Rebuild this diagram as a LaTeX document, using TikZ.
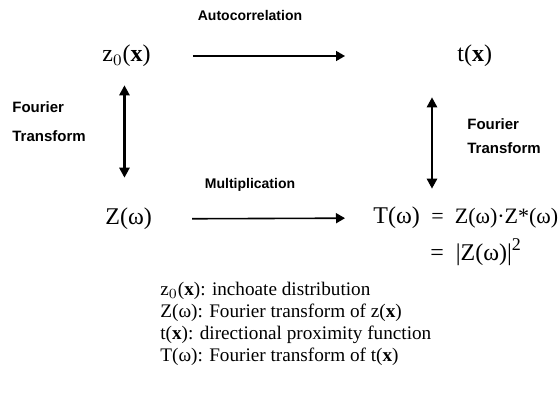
\documentclass[tikz,border=0pt]{standalone}
\usepackage{fontspec}
\setmainfont{Liberation Serif}
\setsansfont{Liberation Sans}
\usetikzlibrary{positioning,arrows.meta,calc}
\tikzset{oplbl/.style={font=\sffamily\bfseries\fontsize{7}{9}\selectfont,inner sep=1pt},
         ftlbl/.style={oplbl,align=left},
         term/.style={font=\fontsize{12}{14}\selectfont,inner sep=1pt},
         key/.style={font=\fontsize{9.6}{11}\selectfont,align=left,inner sep=0pt},
         arr/.style={-{Triangle[length=4.5pt,width=5pt]},line width=0.8pt},
         dbl/.style={{Triangle[length=5pt,width=5pt]}-{Triangle[length=5pt,width=5pt]},line width=1.3pt}}
\begin{document}
\begin{tikzpicture}[x=0.5pt,y=-0.5pt]
 \useasboundingbox (0,0) rectangle (558,400);
 \node[term,anchor=west] (z0) at (100,56) {z$_0$(\textbf{x})};
 \node[term,anchor=west] (tx) at (455,56) {t(\textbf{x})};
 \node[term,anchor=west] (Zw) at (103,219) {Z(ω)};
 \node[term,anchor=west] (Tw) at (371,218) {T(ω)};
 \node[term,anchor=west,font=\fontsize{11}{13}\selectfont] (eq1) at (429,218) {=\enspace Z(ω)·Z*(ω)};
 \node[term,anchor=west] (eq2) at (428,252) {=\enspace|Z(ω)|\raisebox{0.9ex}{\small 2}};
 \node[oplbl] (ac) at (250,16) {Autocorrelation};
 \node[oplbl] (mu) at (250,185) {Multiplication};
 \node[ftlbl,anchor=west,font=\sffamily\bfseries\fontsize{7.5}{14.5}\selectfont] (ftl) at (10,122) {Fourier\\Transform};
 \node[ftlbl,anchor=west,font=\sffamily\bfseries\fontsize{7.5}{12}\selectfont] (ftr) at (465,136) {Fourier\\Transform};
 \node[key,anchor=west] (legend) at (160,324) {z$_0$(\textbf{x}): inchoate distribution\\
   Z(ω): Fourier transform of z(\textbf{x})\\
   t(\textbf{x}): directional proximity function\\
   T(ω): Fourier transform of t(\textbf{x})};
 \draw[arr,shorten <=20pt,shorten >=55pt] (z0.east |- 0,56) -- (tx.west |- 0,56);
 \draw[arr,shorten <=19pt,shorten >=13pt] (Zw) -- (Tw);
 \draw[dbl,shorten <=8pt,shorten >=14pt] ([xshift=-1pt]z0.south) -- ([xshift=-1pt]z0.south |- Zw.north);
 \draw[dbl,shorten <=14pt,shorten >=8pt] (tx.south -| 432,0) -- (Tw.north -| 432,0);
\end{tikzpicture}
\end{document}
